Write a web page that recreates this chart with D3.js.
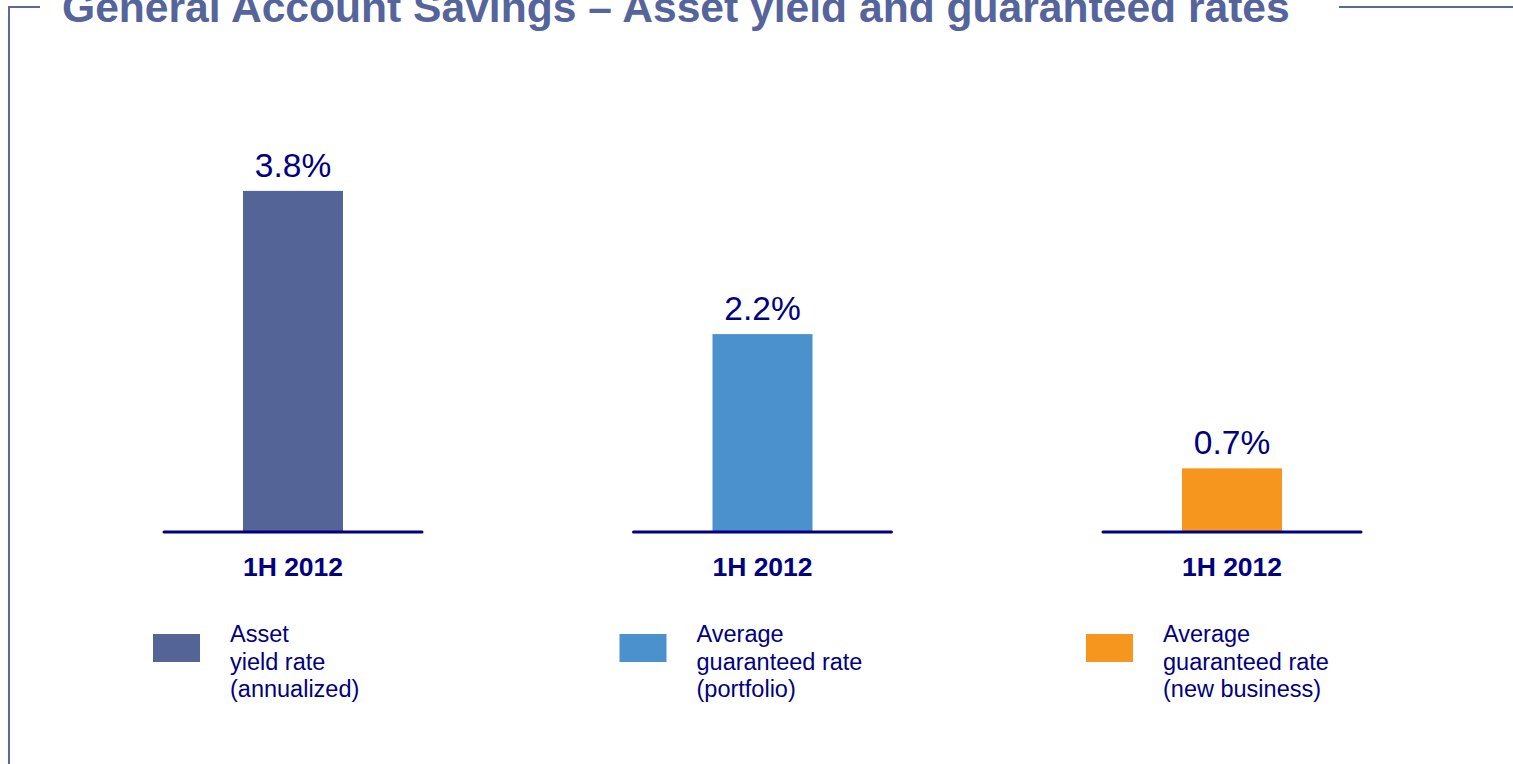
<!DOCTYPE html>
<html>
<head>
<meta charset="utf-8">
<script src="https://cdn.jsdelivr.net/npm/d3@7"></script>
<style>
  html, body { margin: 0; padding: 0; background: #ffffff; }
  svg { display: block; font-family: "Liberation Sans", Arial, sans-serif; }
</style>
</head>
<body>
<svg id="chart" width="1513" height="764"></svg>
<script>
// Chart content
const titleText = "General Account Savings \u2013 Asset yield and guaranteed rates";
const categories = ["asset", "portfolio", "newBusiness"];
const periodLabels = ["1H 2012", "1H 2012", "1H 2012"];
const values = [3.8, 2.2, 0.7];
const valueLabels = ["3.8%", "2.2%", "0.7%"];
const colors = ["#556496", "#4b91cd", "#f7961f"];
const legendLines = [
  ["Asset", "yield rate", "(annualized)"],
  ["Average", "guaranteed rate", "(portfolio)"],
  ["Average", "guaranteed rate", "(new business)"]
];

const navy = "#000080";
const frameColor = "#5a699c";

const svg = d3.select("#chart");

// Frame around the slide area
svg.append("path")
  .attr("d", "M40,7H9V764")
  .attr("fill", "none")
  .attr("stroke", frameColor)
  .attr("stroke-width", 2);
svg.append("line")
  .attr("x1", 1339).attr("x2", 1513)
  .attr("y1", 7).attr("y2", 7)
  .attr("stroke", frameColor)
  .attr("stroke-width", 2);

// Title
svg.append("text")
  .attr("x", 62).attr("y", 22)
  .attr("font-size", 42.6)
  .attr("font-weight", "bold")
  .attr("fill", "#55649a")
  .text(titleText);

// Scales
const x = d3.scalePoint().domain(categories).range([293, 1232]);
const y = d3.scaleLinear().domain([0, 4]).range([531, 173]);
const barWidth = 100;

const data = categories.map((c, i) => ({
  key: c, value: values[i], label: valueLabels[i],
  period: periodLabels[i], color: colors[i], legend: legendLines[i]
}));

// Bars
svg.selectAll("rect.bar")
  .data(data)
  .join("rect")
  .attr("class", "bar")
  .attr("x", d => x(d.key) - barWidth / 2)
  .attr("y", d => y(d.value))
  .attr("width", barWidth)
  .attr("height", d => y(0) - y(d.value))
  .attr("fill", d => d.color);

// Baselines under each bar
svg.selectAll("line.base")
  .data(data)
  .join("line")
  .attr("class", "base")
  .attr("x1", d => x(d.key) - 129)
  .attr("x2", d => x(d.key) + 129)
  .attr("y1", y(0) + 1)
  .attr("y2", y(0) + 1)
  .attr("stroke", navy)
  .attr("stroke-width", 3)
  .attr("stroke-linecap", "round");

// Value labels
svg.selectAll("text.value")
  .data(data)
  .join("text")
  .attr("class", "value")
  .attr("x", d => x(d.key))
  .attr("y", d => y(d.value) - 14)
  .attr("text-anchor", "middle")
  .attr("font-size", 33.5)
  .attr("fill", navy)
  .text(d => d.label);

// Period labels
svg.selectAll("text.period")
  .data(data)
  .join("text")
  .attr("class", "period")
  .attr("x", d => x(d.key))
  .attr("y", 576)
  .attr("text-anchor", "middle")
  .attr("font-size", 26.5)
  .attr("font-weight", "bold")
  .attr("fill", navy)
  .text(d => d.period);

// Legend
const lx = d3.scalePoint().domain(categories).range([153, 1086]);
const legend = svg.selectAll("g.legend")
  .data(data)
  .join("g")
  .attr("class", "legend")
  .attr("transform", d => `translate(${lx(d.key)},0)`);

legend.append("rect")
  .attr("x", 0).attr("y", 634)
  .attr("width", 47).attr("height", 28)
  .attr("fill", d => d.color);

legend.append("text")
  .attr("font-size", 23.5)
  .attr("fill", navy)
  .selectAll("tspan")
  .data(d => d.legend)
  .join("tspan")
  .attr("x", 77)
  .attr("y", (d, i) => 642 + i * 27.5)
  .text(d => d);
</script>
</body>
</html>
